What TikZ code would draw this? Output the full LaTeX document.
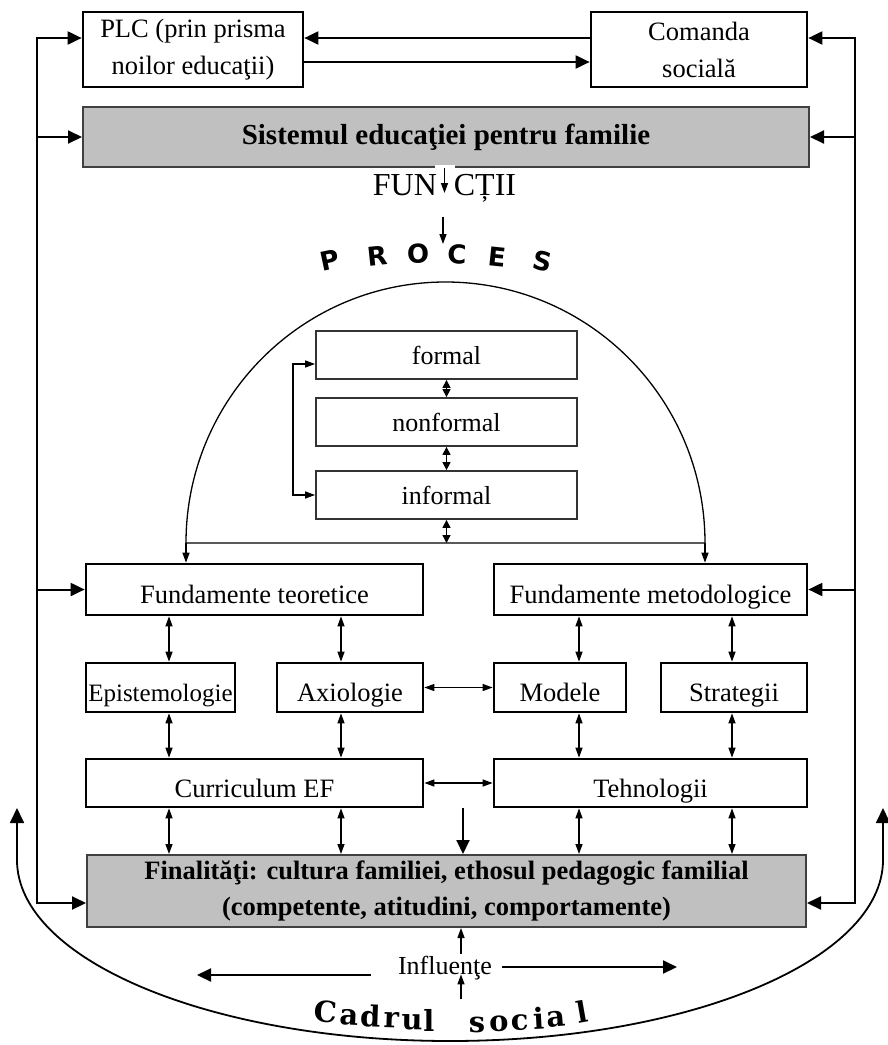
\documentclass[tikz,border=0pt]{standalone}
\usepackage{fontspec}
\setmainfont{Liberation Serif}
\newfontfamily\procfont{DejaVu Sans}
\newfontfamily\cadrufont{DejaVu Serif}
\usepackage{tikz}
\usetikzlibrary{positioning,calc,arrows.meta}
\definecolor{boxgrey}{RGB}{192,192,192}

\begin{document}
\begin{tikzpicture}[x=1pt,y=1pt,
    box/.style={draw, line width=2.7pt, inner sep=0pt, align=center,
      font=\fontsize{26.5}{37}\selectfont},
    oneline/.style={text height=32pt, text depth=4pt},
    greybox/.style={draw=black!75, fill=boxgrey, line width=2pt, inner sep=0pt, align=center},
    formbox/.style={draw=black!80, line width=1.8pt, inner sep=0pt,
      minimum width=261pt, minimum height=48pt, font=\fontsize{26}{30}\selectfont},
    outer/.style={line width=2pt, -{Triangle[length=14pt,width=13pt]}},
    link/.style={line width=1.3pt, {Triangle[length=10pt,width=7pt]}-{Triangle[length=10pt,width=7pt]}},
    tinylink/.style={line width=1.3pt, {Triangle[length=8pt,width=8pt]}-{Triangle[length=8pt,width=8pt]}},
    fine/.style={line width=1.3pt, -{Triangle[length=10pt,width=7pt]}},
    procletter/.style={font=\fontsize{26}{26}\procfont\bfseries, inner sep=0pt},
    cadruletter/.style={font=\fontsize{29}{29}\cadrufont\bfseries, anchor=base, inner sep=0pt},
  ]
    \def \lx {37}
    \def \rx {855}

    \useasboundingbox (0,0) rectangle (888,-1045);

    % top
    \node[box, minimum width=220pt, minimum height=75pt] (plc) at (193,-49.5) {PLC (prin prisma\\noilor educaţii)};
    \node[box, minimum width=216pt, minimum height=75pt] (com) at (699,-49.5) {Comanda\\socială};
    \node[greybox, minimum width=726pt, minimum height=60pt, font=\fontsize{29}{34}\selectfont\bfseries] (sist) at (446,-137) {Sistemul educaţiei pentru familie};
    \node[font=\fontsize{32}{36}\selectfont, inner sep=0pt] (fun) at (444.5,-188) {FUN\hspace{17pt}CȚII};

    \foreach \l/\x/\y/\r in {P/330/260/12, R/377/256/6, O/418/254/2, C/457/254/-2, E/497/257/-6, S/543/261/-12}
      \node[procletter, rotate=\r] (p\l) at (\x,-\y) {\l};

    % dome with the three forms
    \coordinate (domeL) at (186,-543);
    \coordinate (domeR) at (705,-543);
    \draw[line width=1.3pt] (domeL) arc[start angle=180, end angle=0, x radius=259.5, y radius=261] -- cycle;

    \node[formbox] (formal) at (446.5,-355) {formal};
    \node[formbox] (nonformal) at (446.5,-422) {nonformal};
    \node[formbox] (informal) at (446.5,-495) {informal};

    % fundamente
    \node[box, oneline, minimum width=337pt, minimum height=51pt] (teor) at (254.5,-589.5) {Fundamente teoretice};
    \node[box, oneline, minimum width=313pt, minimum height=51pt] (metod) at (650.5,-589.5) {Fundamente metodologice};

    \node[box, oneline, minimum width=149pt, minimum height=49pt, font=\fontsize{25}{30}\selectfont] (epist) at (160.5,-687.5) {Epistemologie};
    \node[box, oneline, minimum width=146pt, minimum height=49pt] (axio) at (350,-687.5) {Axiologie};
    \node[box, oneline, minimum width=132pt, minimum height=49pt] (model) at (560,-687.5) {Modele};
    \node[box, oneline, minimum width=146pt, minimum height=49pt] (strat) at (734,-687.5) {Strategii};

    \node[box, oneline, minimum width=337pt, minimum height=48pt] (curr) at (254.5,-783) {Curriculum EF};
    \node[box, oneline, minimum width=313pt, minimum height=48pt] (tehn) at (650.5,-783) {Tehnologii};

    \node[greybox, minimum width=719pt, minimum height=72pt, font=\fontsize{26.5}{36}\selectfont\bfseries] (fin) at (446.5,-891) {Finalităţi: cultura familiei, ethosul pedagogic familial\\(competente, atitudini, comportamente)};

    % bottom
    \node[font=\fontsize{26}{30}\selectfont, inner sep=2pt] (influente) at (445,-968) {Influenţe};
    \foreach \l/\x/\y/\r [count=\i] in {C/325/1022/-4, a/349/1025/-3, d/370/1027/-2, r/391/1028/-2, u/412/1030/-1, l/429/1031/0,
        s/477/1032/0, o/499/1031/1, c/520/1030/2, i/539/1029/3, a/557/1027/5, l/584/1023/10}
      \node[cadruletter, rotate=\r] (c\i) at (\x,-\y) {\l};

    % outer frame lines
    \coordinate (lt) at (\lx,-38);
    \coordinate (lb) at (\lx,-903);
    \coordinate (rt) at (\rx,-38);
    \coordinate (rb) at (\rx,-903);

    \draw[outer] (lb) -- (lt) -- (lt -| plc.west);
    \draw[outer] (lt) -- (lb) -- (lb -| fin.west);
    \draw[outer] (sist.west -| lt) -- (sist.west);
    \draw[outer] (teor.west -| lt) -- (teor.west);

    \draw[outer] (rb) -- (rt) -- (rt -| com.east);
    \draw[outer] (rt) -- (rb) -- (rb -| fin.east);
    \draw[outer] (sist.east -| rt) -- (sist.east);
    \draw[outer] (metod.east -| rt) -- (metod.east);

    \draw[outer] (lt -| com.west) -- (lt -| plc.east);
    \draw[outer] ([yshift=-12.5pt]plc.east) -- ([yshift=-12.5pt]com.west);

    % functii -> proces
    \fill[white] ($(sist.south)+(-11,3)$) rectangle ($(sist.south)+(9,-1)$);
    \draw[fine] (sist.south -| fun.center) -- ([yshift=-5pt]fun.center);
    \coordinate (proc) at (443,-244);
    \draw[fine] ([yshift=-15pt]fun.south -| proc) -- (proc);

    % inside the dome
    \draw[tinylink] (formal) -- (nonformal);
    \draw[tinylink] (nonformal) -- (informal);
    \draw[tinylink] (informal.south) -- (informal.south |- domeL);
    \draw[link] ([yshift=-9pt]formal.west) -- ++(-22,0) |- (informal.west);
    \draw[fine] (domeL) -- (domeL |- teor.north);
    \draw[fine] (domeR) -- (domeR |- metod.north);

    % columns
    \foreach \a/\b/\c/\x in {teor/epist/curr/169, teor/axio/curr/341, metod/model/tehn/579, metod/strat/tehn/732} {
      \coordinate (col) at (\x,0);
      \draw[link] (\a.south -| col) -- (\b.north -| col);
      \draw[link] (\b.south -| col) -- (\c.north -| col);
      \draw[link] (\c.south -| col) -- (fin.north -| col);
    }
    \draw[link] (axio) -- (model);
    \draw[link] (curr) -- (tehn);
    \coordinate (down) at (463,-808);
    \draw[outer] (down) -- (down |- fin.north);

    % influente
    \coordinate (mid) at (461,0);
    \coordinate (cadru) at (461,-999);
    \coordinate (inflL) at (197,-975);
    \coordinate (inflR) at (677,-967);
    \draw[fine] (influente.north -| mid) -- (fin.south -| mid);
    \draw[fine] (cadru) -- (influente.base -| cadru);
    \draw[outer] ($(influente.west |- inflL)+(-25,0)$) -- (inflL);
    \draw[outer] ($(influente.east |- inflR)+(8,0)$) -- (inflR);

    % cadrul social arc
    \draw[line width=1.8pt, {Triangle[length=15pt,width=14pt]}-{Triangle[length=15pt,width=14pt]}]
      (17,-808) -- (17,-860) arc[start angle=180, end angle=360, x radius=433, y radius=181] -- (883,-808);
\end{tikzpicture}
\end{document}
